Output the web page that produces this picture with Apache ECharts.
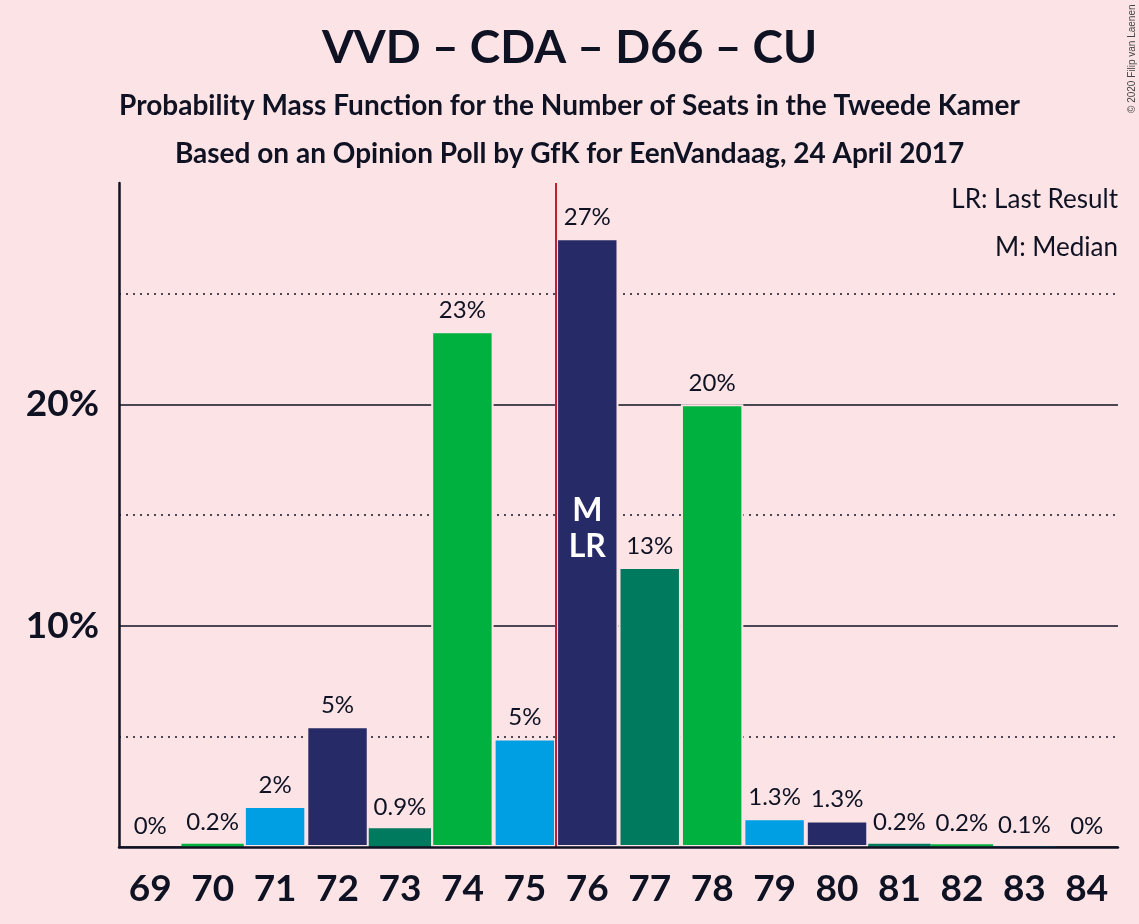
<!DOCTYPE html>
<html><head><meta charset="utf-8">
<script src="https://cdn.jsdelivr.net/npm/echarts@6/dist/echarts.min.js"></script>
<style>html,body{margin:0;padding:0;background:#FCE4E6;}#c{width:1139px;height:924px;}</style>
</head><body><div id="c"></div>
<script>
var seats = ['69','70','71','72','73','74','75','76','77','78','79','80','81','82','83','84'];
var probs = [0, 0.15, 1.85, 5.45, 0.85, 23.3, 4.9, 27.5, 12.65, 20.0, 1.3, 1.2, 0.15, 0.12, 0.03, 0];
var valueLabels = ['0%','0.2%','2%','5%','0.9%','23%','5%','27%','13%','20%','1.3%','1.3%','0.2%','0.2%','0.1%','0%'];
var yTickLabels = {10: '10%', 20: '20%'};
var palette = ['#007A5E', '#00B13F', '#009FE3', '#262A66'];
var medianSeat = 75.5;
var medianMarkSeat = '76';

var bg = '#FCE4E6';
var ink = '#0F1223';
var tr = 'rgba(0,0,0,0)';
var chart = echarts.init(document.getElementById('c'));
chart.setOption({
  backgroundColor: bg,
  animation: false,
  textStyle: {fontFamily: 'Lato'},
  title: [
    {text: 'VVD – CDA – D66 – CU', left: 'center', top: 20, textStyle: {fontFamily: 'Lato', fontSize: 46, fontWeight: 'bold', color: ink}},
    {text: 'Probability Mass Function for the Number of Seats in the Tweede Kamer', left: 'center', top: 87, textStyle: {fontFamily: 'Lato', fontSize: 28, fontWeight: 'bold', color: ink}},
    {text: 'Based on an Opinion Poll by GfK for EenVandaag, 24 April 2017', left: 'center', top: 135, textStyle: {fontFamily: 'Lato', fontSize: 28, fontWeight: 'bold', color: ink}},
    {text: 'LR: Last Result', right: 16, top: 182, textStyle: {fontFamily: 'Lato', fontSize: 26, fontWeight: 'normal', color: ink}},
    {text: 'M: Median', right: 16, top: 230, textStyle: {fontFamily: 'Lato', fontSize: 26, fontWeight: 'normal', color: ink}}
  ],
  graphic: [{
    type: 'text', x: 1132, y: 113, rotation: Math.PI / 2, z: 10,
    style: {text: '© 2020 Filip van Laenen', font: '10px "Liberation Sans"', fill: '#444',
      textAlign: 'left', textVerticalAlign: 'middle'}
  }],
  grid: {left: 119, right: 21, top: 183, bottom: 77},
  xAxis: [
    {type: 'category', data: seats, axisTick: {show: false}, z: 5,
     axisLine: {lineStyle: {color: ink, width: 2.5}},
     axisLabel: {fontFamily: 'Lato', fontSize: 37, fontWeight: 'bold', color: ink, margin: 24}},
    {type: 'value', min: 68.5, max: 84.5, show: false}
  ],
  yAxis: [
    {type: 'value', min: 0, max: 30, interval: 10,
     axisLine: {show: true, lineStyle: {color: ink, width: 2.5}}, axisTick: {show: false},
     axisLabel: {fontFamily: 'Lato', fontSize: 37, fontWeight: 'bold', color: ink, margin: 20,
       formatter: function (v) { return yTickLabels[v] || ''; }},
     splitLine: {show: true, lineStyle: {color: [ink, ink, ink, tr], width: 1.5, type: 'solid'}}},
    {type: 'value', min: 0, max: 30, interval: 5, show: true,
     axisLine: {show: false}, axisTick: {show: false}, axisLabel: {show: false},
     splitLine: {show: true, lineStyle: {color: [tr, ink, tr, ink, tr, ink, tr], width: 1.5, type: [2, 5]}}}
  ],
  series: [
    {type: 'bar', xAxisIndex: 0, yAxisIndex: 0, barCategoryGap: '0%', z: 3,
     data: probs.map(function (p, i) {
       return {value: p, itemStyle: {color: palette[i % 4], borderColor: bg, borderWidth: p > 1 ? 2 : 0}};
     }),
     label: {show: true, position: 'top', distance: 9, fontFamily: 'Lato', fontSize: 24, color: ink,
       formatter: function (p) { return valueLabels[p.dataIndex]; }},
     markPoint: {
       symbol: 'rect', symbolSize: 0,
       data: [{coord: [medianMarkSeat, 14.4], value: 0}],
       label: {show: true, position: 'inside', formatter: 'M\nLR', color: '#fff', fontFamily: 'Lato',
         fontSize: 32, fontWeight: 'bold', lineHeight: 36, align: 'center'}
     }
    },
    {type: 'line', xAxisIndex: 1, yAxisIndex: 0, data: [], z: 4,
     markLine: {silent: true, symbol: 'none', label: {show: false},
       lineStyle: {color: '#C0202F', width: 2, type: 'solid'},
       data: [[{coord: [medianSeat, 0]}, {coord: [medianSeat, 30]}]]}}
  ]
});
</script></body></html>
